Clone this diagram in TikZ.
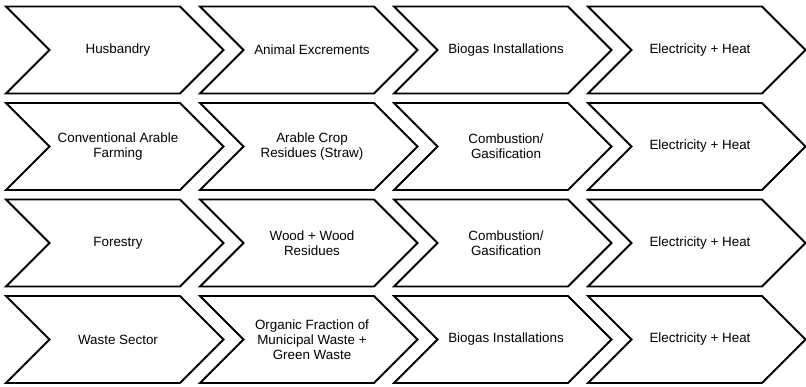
\documentclass[tikz,border=0pt]{standalone}
\usepackage{fontspec}
\setmainfont{Liberation Sans}

\tikzset{
  chevline/.style={draw=black, line width=1.9pt, line join=miter},
  chevtext/.style={align=center, font=\fontsize{13.4}{15}\selectfont}
}
% chevron: x, y of top left corner, node name, text
\newcommand{\chevron}[4]{%
  \draw[chevline] (#1,#2) -- ++(174,0) -- ++(43.5,43.5) -- ++(-43.5,43.5)
    -- ++(-174,0) -- ++(43.5,-43.5) -- cycle;
  \node[chevtext] (#3) at (#1+112,#2+43.5) {#4};
}

\begin{document}
\begin{tikzpicture}[x=1pt,y=-1pt]
\useasboundingbox (0,0) rectangle (806,387);
% Row 1
\chevron{6}{6.5}{husbandry}{Husbandry}
\chevron{200}{6.5}{excrements}{Animal Excrements}
\chevron{394}{6.5}{biogasA}{Biogas Installations}
\chevron{588}{6.5}{powerA}{Electricity + Heat}
% Row 2
\chevron{6}{103}{farming}{Conventional Arable\\Farming}
\chevron{200}{103}{straw}{Arable Crop\\Residues (Straw)}
\chevron{394}{103}{combustionA}{Combustion/\\Gasification}
\chevron{588}{103}{powerB}{Electricity + Heat}
% Row 3
\chevron{6}{199.5}{forestry}{Forestry}
\chevron{200}{199.5}{wood}{Wood + Wood\\Residues}
\chevron{394}{199.5}{combustionB}{Combustion/\\Gasification}
\chevron{588}{199.5}{powerC}{Electricity + Heat}
% Row 4
\chevron{6}{296}{waste}{Waste Sector}
\chevron{200}{296}{organic}{Organic Fraction of\\Municipal Waste +\\Green Waste}
\chevron{394}{296}{biogasB}{Biogas Installations}
\chevron{588}{296}{powerD}{Electricity + Heat}
\end{tikzpicture}
\end{document}
